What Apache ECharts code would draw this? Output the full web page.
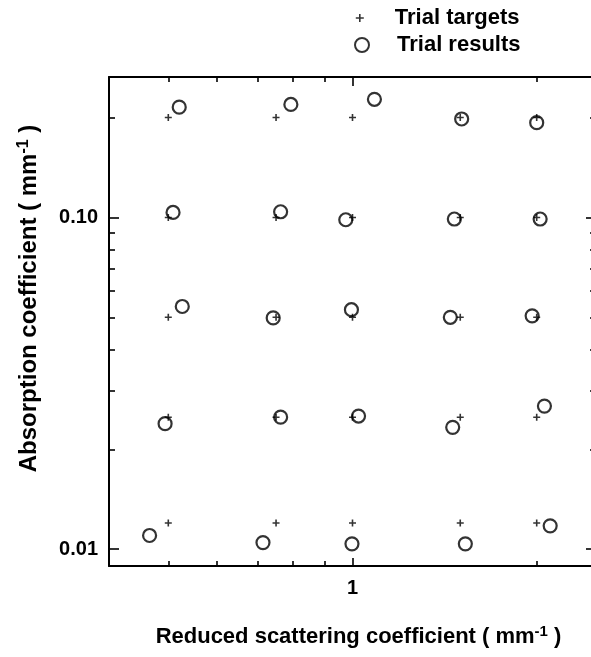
<!DOCTYPE html>
<html>
<head>
<meta charset="utf-8">
<style>
  html, body { margin: 0; padding: 0; background: #fff; }
  #chart { width: 591px; height: 657px; }
</style>
<script src="https://cdn.jsdelivr.net/npm/echarts@6/dist/echarts.min.js"></script>
</head>
<body>
<div id="chart"></div>
<script>
// Target optical properties (reduced scattering, absorption), mm^-1
const targetMusp = [
  0.5, 0.75, 1.0, 1.5, 2.0,
  0.5, 0.75, 1.0, 1.5, 2.0,
  0.5, 0.75, 1.0, 1.5, 2.0,
  0.5, 0.75, 1.0, 1.5, 2.0,
  0.5, 0.75, 1.0, 1.5, 2.0
];
const targetMua = [
  0.2, 0.2, 0.2, 0.2, 0.2,
  0.1, 0.1, 0.1, 0.1, 0.1,
  0.05, 0.05, 0.05, 0.05, 0.05,
  0.025, 0.025, 0.025, 0.025, 0.025,
  0.012, 0.012, 0.012, 0.012, 0.012
];

// Recovered optical properties for each trial
const resultMusp = [
  0.521, 0.793, 1.086, 1.508, 2.000,
  0.509, 0.763, 0.975, 1.467, 2.026,
  0.527, 0.742, 0.996, 1.445, 1.966,
  0.494, 0.763, 1.023, 1.458, 2.059,
  0.466, 0.714, 0.998, 1.529, 2.104
];
const resultMua = [
  0.215, 0.219, 0.227, 0.198, 0.193,
  0.1035, 0.104, 0.0984, 0.0989, 0.0989,
  0.0539, 0.0498, 0.0527, 0.0500, 0.0505,
  0.0239, 0.0250, 0.0252, 0.0233, 0.0270,
  0.0110, 0.01047, 0.01038, 0.01038, 0.01176
];

// Axis ranges and ticks
const X_RANGE = [0.4, 2.5];
const Y_RANGE = [0.0089, 0.265];
const X_MAJOR = [1];
const X_MINOR = [0.5, 0.6, 0.7, 0.8, 0.9, 2];
const X_LABEL_VALUES = [1];
const X_LABELS = ['1'];
const Y_MAJOR = [0.01, 0.1];
const Y_MINOR = [0.02, 0.03, 0.04, 0.05, 0.06, 0.07, 0.08, 0.09, 0.2];
const Y_LABEL_VALUES = [0.01, 0.1];
const Y_LABELS = ['0.01', '0.10'];

const SERIES_NAMES = ['Trial targets', 'Trial results'];

const FONT = "'Liberation Sans', Arial, Helvetica, sans-serif";
const PLUS = 'path://M4,0V8M0,4H8';

function pairs(xs, ys) {
  return xs.map((x, i) => [x, ys[i]]);
}

function pickLabel(values, labels) {
  return function (v) {
    let best = 0;
    for (let i = 1; i < values.length; i++) {
      if (Math.abs(Math.log10(values[i]) - Math.log10(v)) <
          Math.abs(Math.log10(values[best]) - Math.log10(v))) best = i;
    }
    return labels[best];
  };
}

const hidden = {
  splitLine: { show: false },
  axisLine: { show: false },
  axisTick: { show: false },
  axisLabel: { show: false }
};

function xAxisDef(position, extra) {
  return Object.assign({
    type: 'log', logBase: 10, min: X_RANGE[0], max: X_RANGE[1],
    position: position, gridIndex: 0
  }, hidden, extra);
}
function yAxisDef(position, extra) {
  return Object.assign({
    type: 'log', logBase: 10, min: Y_RANGE[0], max: Y_RANGE[1],
    position: position, gridIndex: 0
  }, hidden, extra);
}

const frameLine = { show: true, onZero: false, lineStyle: { color: '#000', width: 2 } };
const tickStyle = { color: '#000', width: 1.6 };

function titleRich(size, supSize, raise) {
  return {
    t: { fontFamily: FONT, fontWeight: 'bold', fontSize: size, color: '#000' },
    s: { fontFamily: FONT, fontWeight: 'bold', fontSize: supSize, color: '#000', padding: [0, 0, raise, 0] }
  };
}

const legendText = { fontFamily: FONT, fontWeight: 'bold', fontSize: 22, color: '#000' };

const chart = echarts.init(document.getElementById('chart'), null, { renderer: 'canvas' });

chart.setOption({
  backgroundColor: '#fff',
  animation: false,
  grid: { left: 109, right: -5, top: 77, bottom: 91, containLabel: false, outerBoundsMode: 'none' },
  legend: [
    {
      data: [{ name: SERIES_NAMES[0], icon: PLUS }],
      left: 350, top: 2, itemWidth: 8, itemHeight: 8, selectedMode: false,
      itemStyle: { color: 'transparent', borderColor: '#000', borderWidth: 1.6 },
      textStyle: Object.assign({ padding: [0, 0, 0, 26] }, legendText)
    },
    {
      data: [{ name: SERIES_NAMES[1], icon: 'circle' }],
      left: 349, top: 29, itemWidth: 14, itemHeight: 14, selectedMode: false,
      itemStyle: { color: 'transparent', borderColor: '#000', borderWidth: 2 },
      textStyle: Object.assign({ padding: [0, 0, 0, 23] }, legendText)
    }
  ],
  xAxis: [
    xAxisDef('bottom', {
      axisLine: frameLine,
      axisTick: { show: true, inside: true, length: 8, customValues: X_MAJOR, lineStyle: tickStyle },
      axisLabel: {
        show: true, customValues: X_LABEL_VALUES, formatter: pickLabel(X_LABEL_VALUES, X_LABELS),
        margin: 12, fontFamily: FONT, fontWeight: 'bold', fontSize: 20, color: '#000'
      },
      name: '{t|Reduced scattering coefficient ( mm}{s|-1}{t| )}',
      nameLocation: 'middle', nameGap: 58,
      nameTextStyle: { rich: titleRich(22, 15, 10), padding: [0, 0, 0, 12] }
    }),
    xAxisDef('bottom', {
      axisTick: { show: true, inside: true, length: 5, customValues: X_MINOR, lineStyle: tickStyle }
    }),
    xAxisDef('top', {
      axisLine: frameLine,
      axisTick: { show: true, inside: true, length: 9, customValues: X_MAJOR, lineStyle: tickStyle }
    }),
    xAxisDef('top', {
      axisTick: { show: true, inside: true, length: 5, customValues: X_MINOR, lineStyle: tickStyle }
    })
  ],
  yAxis: [
    yAxisDef('left', {
      axisLine: frameLine,
      axisTick: { show: true, inside: true, length: 10, customValues: Y_MAJOR, lineStyle: tickStyle },
      axisLabel: {
        show: true, customValues: Y_LABEL_VALUES, formatter: pickLabel(Y_LABEL_VALUES, Y_LABELS),
        margin: 11, fontFamily: FONT, fontWeight: 'bold', fontSize: 20, color: '#000'
      },
      name: '{t|Absorption coefficient ( mm}{s|-1}{t| )}',
      nameLocation: 'middle', nameGap: 66, nameRotate: 90,
      nameTextStyle: { rich: titleRich(24, 16, 11), padding: [0, 0, 0, 46] }
    }),
    yAxisDef('left', {
      axisTick: { show: true, inside: true, length: 6, customValues: Y_MINOR, lineStyle: tickStyle }
    }),
    yAxisDef('right', {
      axisLine: frameLine,
      axisTick: { show: true, inside: true, length: 10, customValues: Y_MAJOR, lineStyle: tickStyle }
    }),
    yAxisDef('right', {
      axisTick: { show: true, inside: true, length: 6, customValues: Y_MINOR, lineStyle: tickStyle }
    })
  ],
  series: [
    {
      name: SERIES_NAMES[0], type: 'scatter', xAxisIndex: 0, yAxisIndex: 0,
      symbol: PLUS, symbolSize: 7, z: 3,
      itemStyle: { color: 'transparent', borderColor: '#000', borderWidth: 1.6 },
      data: pairs(targetMusp, targetMua)
    },
    {
      name: SERIES_NAMES[1], type: 'scatter', xAxisIndex: 0, yAxisIndex: 0,
      symbol: 'circle', symbolSize: 13, z: 2,
      itemStyle: { color: 'transparent', borderColor: '#000', borderWidth: 2.2 },
      data: pairs(resultMusp, resultMua)
    }
  ]
});
</script>
</body>
</html>
